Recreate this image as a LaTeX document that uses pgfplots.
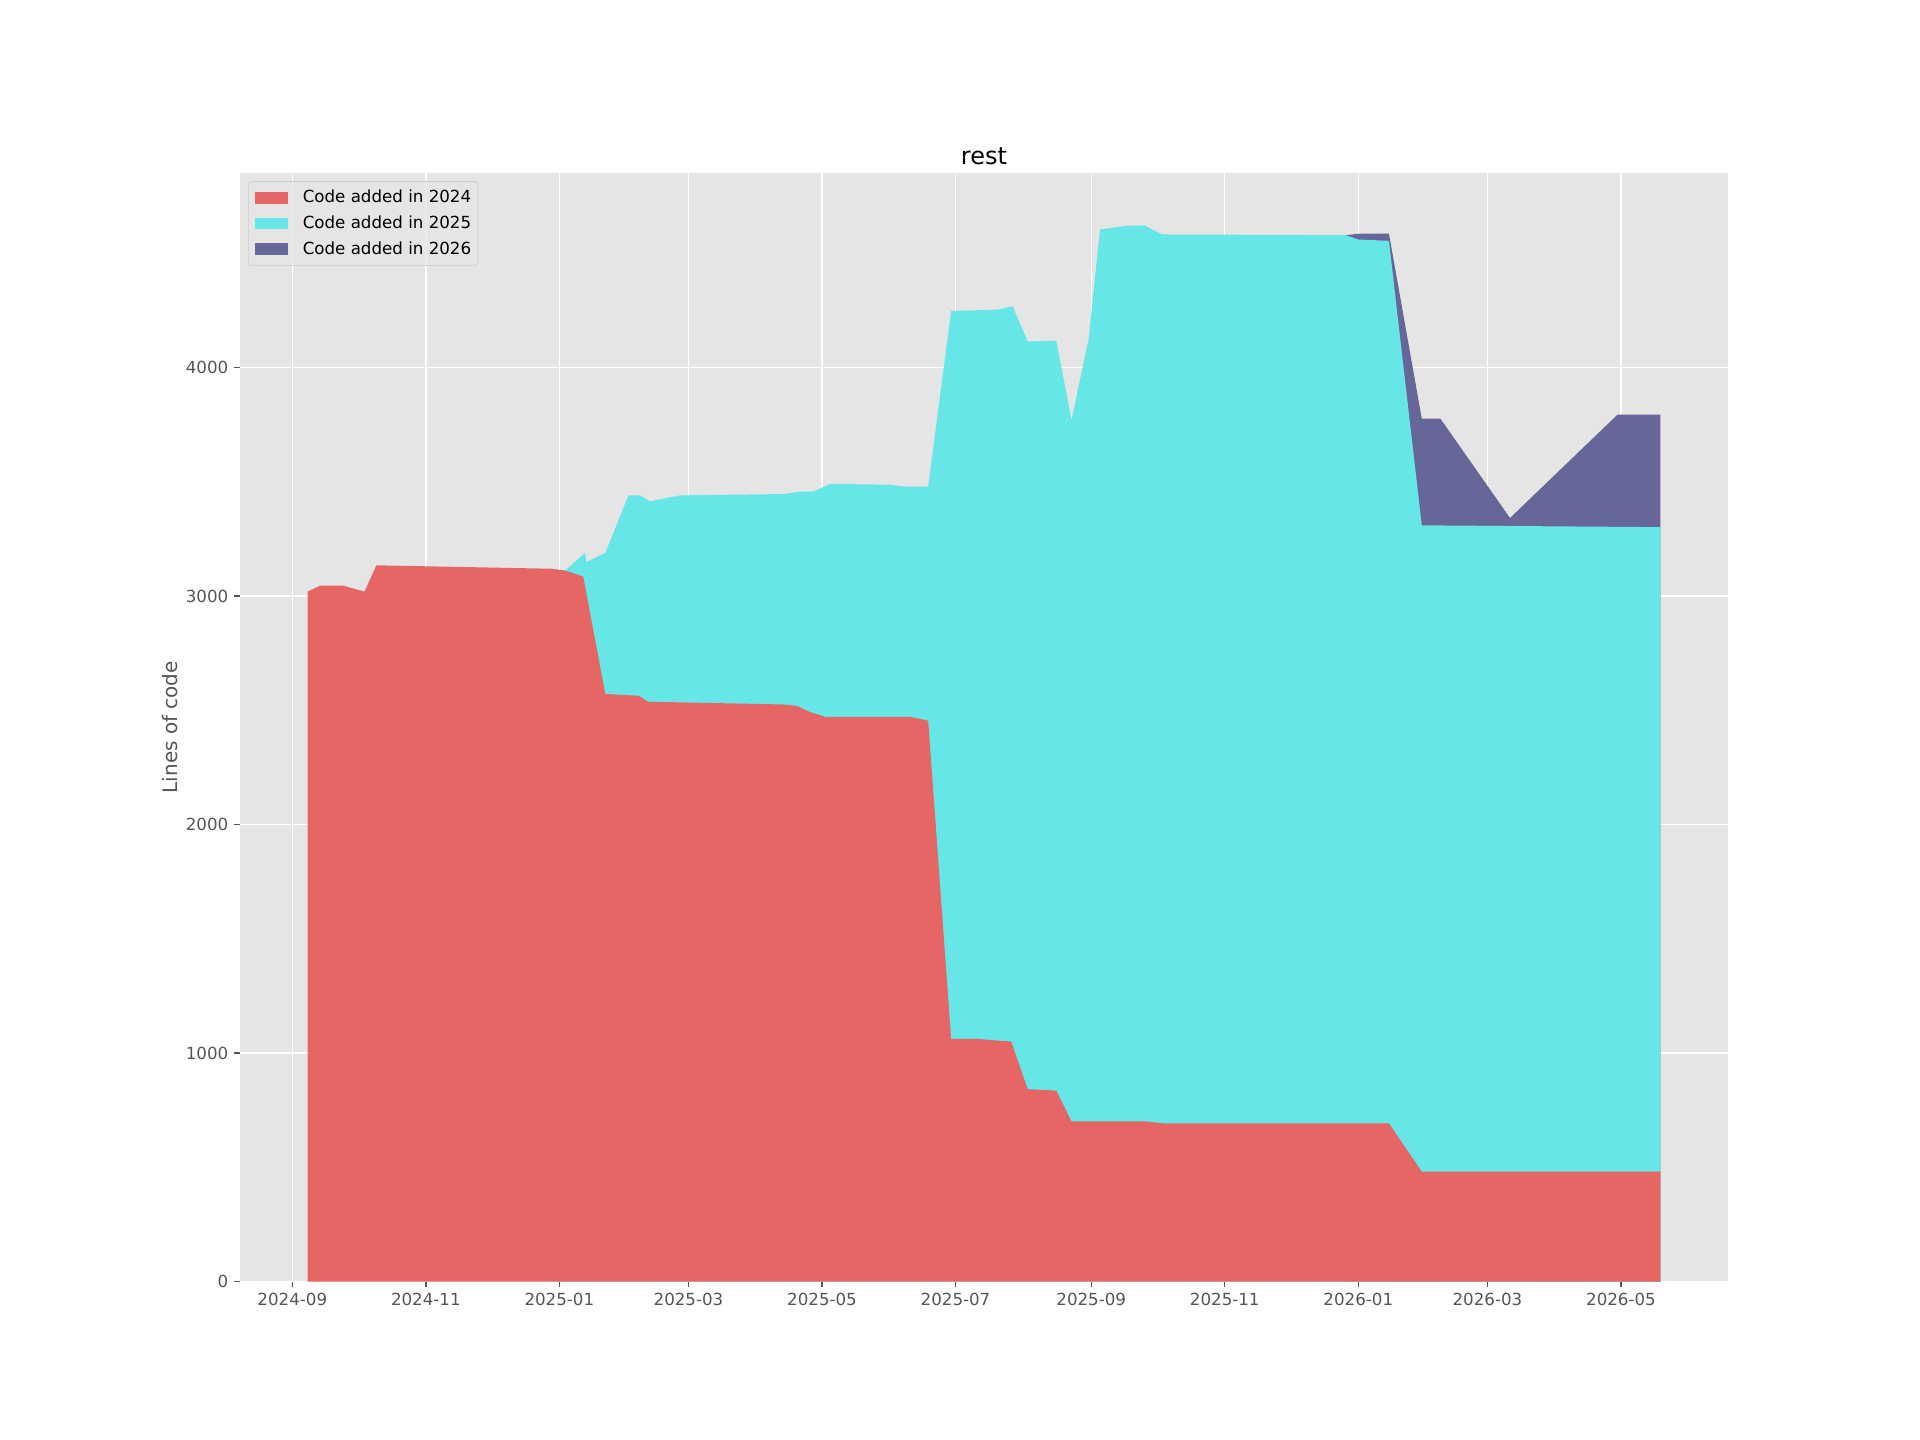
\documentclass[border=0pt]{standalone}
\usepackage{pgfplots}
\pgfplotsset{compat=1.18}
\usepackage{fontspec}
\setmainfont{DejaVu Sans}
\definecolor{c24}{HTML}{E66666}
\definecolor{c25}{HTML}{66E6E6}
\definecolor{c26}{HTML}{666699}
\definecolor{bg}{HTML}{E5E5E5}
\definecolor{tickc}{HTML}{555555}
\definecolor{legedge}{HTML}{CCCCCC}
\begin{document}
\begin{tikzpicture}
\path[use as bounding box] (-144pt,-95.04pt) rectangle (1008pt,768.96pt);
\begin{axis}[
  at={(0pt,0pt)}, anchor=south west,
  scale only axis, width=892.8pt, height=665.28pt,
  xmin=-23.9, xmax=655.9, ymin=0, ymax=4853,
  axis background/.style={fill=bg},
  axis line style={draw=none},
  grid=major, major grid style={white, line width=0.8pt},
  xtick={0,61,122,181,242,303,365,426,487,546,607},
  xticklabels={2024-09,2024-11,2025-01,2025-03,2025-05,2025-07,2025-09,2025-11,2026-01,2026-03,2026-05},
  ytick={0,1000,2000,3000,4000},
  scaled y ticks=false,
  /pgf/number format/1000 sep={},
  /pgf/number format/assume math mode=true,
  tick align=outside, xtick pos=left, ytick pos=left,
  major tick length=3.5pt,
  tick style={tickc, line width=0.8pt},
  ticklabel style={font=\fontsize{10}{12}\selectfont, text=tickc},
  title={rest},
  title style={font=\fontsize{14.4}{17}\selectfont, at={(0.5,1)}, anchor=base, yshift=-0.8pt},
  ylabel={Lines of code},
  ylabel style={font=\fontsize{12}{14}\selectfont, text=tickc, at={(axis description cs:-0.04727,0.5)}, anchor=center},
  legend style={at={(0,1)}, anchor=north west, xshift=5pt, yshift=-5pt,
    draw=legedge, fill=bg, fill opacity=0.8, text opacity=1, rounded corners=2pt,
    font=\fontsize{10}{12}\selectfont, text=black,
    inner xsep=2pt, inner ysep=3.3pt, row sep=2.3pt, column sep=6.7pt,
    nodes={inner sep=2pt}},
  legend cell align=left,
  reverse legend,
  legend image code/.code={\path (-1.8pt,0pt); \path[#1, fill opacity=1, sharp corners] (0pt,-3.5pt) rectangle (20pt,3.5pt);},
]
% Code added in 2026 (cumulative total)
\addplot[fill=c26, draw=none] coordinates {
(481.2,4580) (488,4587) (501,4587) (516,3777) (524.5,3777) (556.3,3342) (605.5,3795) (625,3795)
} \closedcycle;
\addlegendentry{Code added in 2026}
% Code added in 2025 (cumulative 2024+2025)
\addplot[fill=c25, draw=none] coordinates {
(118.2,3120) (124.7,3112) (133.7,3189) (134.3,3149) (143,3189) (153.6,3441) (158.9,3441)
(163.4,3415) (177.1,3441) (224.5,3447) (231.6,3457) (237.7,3457) (245.8,3491) (272.7,3488)
(280.3,3479) (290.5,3479) (301,4248) (322.5,4254) (329,4269) (336,4115) (349,4118)
(356,3770) (363.8,4127) (369,4605) (382.2,4622) (389.4,4622) (397.4,4583) (481.2,4580)
(487,4561) (501,4555) (516,3310) (625,3302)
} \closedcycle;
\addlegendentry{Code added in 2025}
% Code added in 2024
\addplot[fill=c24, draw=none] coordinates {
(7,3020) (12.7,3046) (23.2,3046) (33,3020) (38.4,3135) (118.2,3120) (124.7,3112)
(132.9,3086) (143,2572) (158.3,2564) (162.5,2538) (224.2,2526) (230.4,2520) (236.4,2493)
(243.5,2472) (282.1,2472) (290.5,2455) (301,1062) (313.5,1062) (321.9,1055) (328.4,1051)
(336,842) (349,836) (356,701) (389.7,701) (397.5,693) (501,693) (516,481) (625,481)
} \closedcycle;
\addlegendentry{Code added in 2024}
\end{axis}
\end{tikzpicture}
\end{document}
